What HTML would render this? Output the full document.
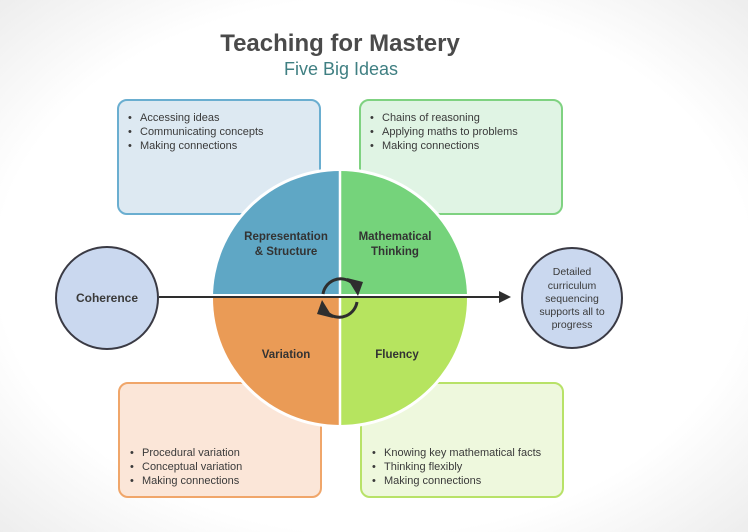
<!DOCTYPE html>
<html><head><style>
html,body{margin:0;padding:0;background:#fff}
svg{display:block}
text{font-family:"Liberation Sans",sans-serif}
</style></head><body>
<svg width="748" height="532" viewBox="0 0 748 532" xmlns="http://www.w3.org/2000/svg">
<defs>
<radialGradient id="bg" cx="50%" cy="50%" r="72%">
<stop offset="0.7" stop-color="#ffffff"/><stop offset="1" stop-color="#ececec"/>
</radialGradient>
</defs>
<rect width="748" height="532" fill="url(#bg)"/>
<text x="340" y="51" text-anchor="middle" font-size="24" font-weight="bold" fill="#4a4a4a">Teaching for Mastery</text>
<text x="341" y="75" text-anchor="middle" font-size="18" fill="#3f7f82">Five Big Ideas</text>

<rect x="118" y="100" width="202" height="114" rx="9" fill="#dde9f2" stroke="#6aaed0" stroke-width="2"/>
<rect x="360" y="100" width="202" height="114" rx="9" fill="#e0f4e4" stroke="#7fd281" stroke-width="2"/>
<rect x="119" y="383" width="202" height="114" rx="9" fill="#fbe6d8" stroke="#f0a66a" stroke-width="2"/>
<rect x="361" y="383" width="202" height="114" rx="9" fill="#eef8dd" stroke="#b8e268" stroke-width="2"/>

<g font-size="11" fill="#3a3a3a">
<text x="128" y="121">•</text><text x="140" y="121">Accessing ideas</text>
<text x="128" y="135">•</text><text x="140" y="135">Communicating concepts</text>
<text x="128" y="149">•</text><text x="140" y="149">Making connections</text>
<text x="370" y="121">•</text><text x="382" y="121">Chains of reasoning</text>
<text x="370" y="135">•</text><text x="382" y="135">Applying maths to problems</text>
<text x="370" y="149">•</text><text x="382" y="149">Making connections</text>
<text x="130" y="456">•</text><text x="142" y="456">Procedural variation</text>
<text x="130" y="470">•</text><text x="142" y="470">Conceptual variation</text>
<text x="130" y="484">•</text><text x="142" y="484">Making connections</text>
<text x="372" y="456">•</text><text x="384" y="456">Knowing key mathematical facts</text>
<text x="372" y="470">•</text><text x="384" y="470">Thinking flexibly</text>
<text x="372" y="484">•</text><text x="384" y="484">Making connections</text>
</g>

<circle cx="340" cy="298" r="130" fill="#fff"/>
<path d="M340 298 L213 298 A127 127 0 0 1 340 171 Z" fill="#5fa7c5"/>
<path d="M340 298 L340 171 A127 127 0 0 1 467 298 Z" fill="#75d37b"/>
<path d="M340 298 L467 298 A127 127 0 0 1 340 425 Z" fill="#b6e45f"/>
<path d="M340 298 L340 425 A127 127 0 0 1 213 298 Z" fill="#ea9b56"/>
<line x1="340" y1="168" x2="340" y2="428" stroke="#fff" stroke-width="2.5"/>
<line x1="210" y1="296" x2="470" y2="296" stroke="#fff" stroke-width="4"/>

<g font-size="11.5" font-weight="bold" fill="#333" text-anchor="middle">
<text x="286" y="240">Representation</text>
<text x="286" y="255">&amp; Structure</text>
<text x="395" y="240">Mathematical</text>
<text x="395" y="255">Thinking</text>
<text x="286" y="358">Variation</text>
<text x="397" y="358">Fluency</text>
</g>

<line x1="159" y1="297" x2="500" y2="297" stroke="#2e2e2e" stroke-width="2"/>
<polygon points="499,291 511,297 499,303" fill="#2e2e2e"/>

<g fill="none" stroke="#2e2e2e" stroke-width="3">
<path d="M323 294 A18 18 0 0 1 351 282"/>
<path d="M357 302 A18 18 0 0 1 329 314"/>
</g>
<polygon points="347,278 363,282 358,296" fill="#2e2e2e"/>
<polygon points="333,318 317,314 322,300" fill="#2e2e2e"/>

<circle cx="107" cy="298" r="51" fill="#cad8ef" stroke="#3a3a44" stroke-width="2"/>
<text x="107" y="302" text-anchor="middle" font-size="12" font-weight="bold" fill="#3a3a3a">Coherence</text>
<circle cx="572" cy="298" r="50" fill="#cad8ef" stroke="#3a3a44" stroke-width="2"/>
<g font-size="10.5" fill="#3a3a3a" text-anchor="middle">
<text x="572" y="275">Detailed</text>
<text x="572" y="289">curriculum</text>
<text x="572" y="302">sequencing</text>
<text x="572" y="315">supports all to</text>
<text x="572" y="328">progress</text>
</g>
</svg>
</body></html>
